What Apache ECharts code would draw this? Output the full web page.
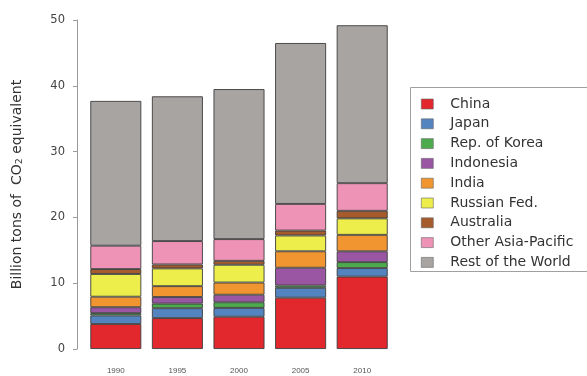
<!DOCTYPE html>
<html>
<head>
<meta charset="utf-8">
<script src="https://cdn.jsdelivr.net/npm/echarts@6/dist/echarts.min.js"></script>
<style>
  html, body { margin: 0; padding: 0; background: #ffffff; }
  #chart { width: 587px; height: 376px; }
</style>
</head>
<body>
<div id="chart"></div>
<script>
// Greenhouse gas emissions by region, billion tons of CO2 equivalent
const years = ['1990', '1995', '2000', '2005', '2010'];

const china        = [3.8, 4.7, 4.9, 7.8, 11.0];
const japan        = [1.3, 1.5, 1.35, 1.5, 1.3];
const korea        = [0.35, 0.7, 0.85, 0.35, 0.9];
const indonesia    = [0.9, 1.0, 1.15, 2.7, 1.65];
const india        = [1.6, 1.65, 1.85, 2.5, 2.5];
const russia       = [3.45, 2.7, 2.7, 2.4, 2.5];
const australia    = [0.75, 0.6, 0.6, 0.75, 1.15];
const otherAsiaPac = [3.55, 3.55, 3.3, 4.05, 4.2];
const restOfWorld  = [22.0, 22.0, 22.8, 24.45, 24.0];

const yTicks = [0, 10, 20, 30, 40, 50];

const seriesDefs = [
  { name: 'China',              data: china,        color: '#e2272d' },
  { name: 'Japan',              data: japan,        color: '#5484bf' },
  { name: 'Rep. of Korea',      data: korea,        color: '#4cab4d' },
  { name: 'Indonesia',          data: indonesia,    color: '#9a56a3' },
  { name: 'India',              data: india,        color: '#f0952f' },
  { name: 'Russian Fed.',       data: russia,       color: '#eded4b' },
  { name: 'Australia',          data: australia,    color: '#a65b2d' },
  { name: 'Other Asia-Pacific', data: otherAsiaPac, color: '#ef93b6' },
  { name: 'Rest of the World',  data: restOfWorld,  color: '#a7a4a2' }
];

const chart = echarts.init(document.getElementById('chart'), null, { renderer: 'canvas' });

chart.setOption({
  animation: false,
  backgroundColor: '#ffffff',
  grid: { left: 85, right: 194, top: 20, bottom: 27 },
  xAxis: {
    type: 'category',
    data: years,
    axisLine: { show: false },
    axisTick: { show: false },
    axisLabel: {
      margin: 18,
      fontFamily: 'Liberation Sans',
      fontSize: 8,
      color: '#555'
    }
  },
  yAxis: {
    type: 'value',
    min: yTicks[0],
    max: yTicks[yTicks.length - 1],
    interval: 10,
    offset: 8,
    splitLine: { show: false },
    axisLine: { show: true, lineStyle: { color: '#9a9a9a', width: 1 } },
    axisTick: { show: true, length: 4, lineStyle: { color: '#9a9a9a' } },
    axisLabel: {
      margin: 12,
      fontFamily: 'DejaVu Sans',
      fontSize: 11.5,
      color: '#444'
    },
    name: 'Billion tons of  CO{sub|2} equivalent',
    nameLocation: 'middle',
    nameGap: 52,
    nameRotate: 90,
    nameTextStyle: {
      fontFamily: 'DejaVu Sans',
      fontSize: 14,
      color: '#333',
      rich: {
        sub: { fontFamily: 'DejaVu Sans', fontSize: 9.5, color: '#333', verticalAlign: 'bottom', padding: [6, 0, 0, 0] }
      }
    }
  },
  legend: {
    orient: 'vertical',
    left: 421,
    top: 97,
    padding: 0,
    itemWidth: 12,
    itemHeight: 10,
    itemGap: 5.8,
    icon: 'rect',
    selectedMode: false,
    itemStyle: { borderColor: '#666', borderWidth: 0.6 },
    textStyle: {
      fontFamily: 'DejaVu Sans',
      fontSize: 14,
      lineHeight: 14,
      color: '#333',
      padding: [0, 0, 0, 12]
    },
    data: seriesDefs.map(s => s.name)
  },
  graphic: [
    {
      type: 'rect',
      left: 408,
      top: 85,
      shape: { width: 177, height: 184 },
      style: { fill: 'none', stroke: '#a0a0a0', lineWidth: 1 },
      silent: true
    }
  ],
  series: seriesDefs.map(s => ({
    name: s.name,
    type: 'bar',
    stack: 'total',
    barWidth: 51,
    data: s.data,
    itemStyle: { color: s.color, borderColor: '#3d3d3d', borderWidth: 0.9 },
    emphasis: { disabled: true }
  }))
});
</script>
</body>
</html>
